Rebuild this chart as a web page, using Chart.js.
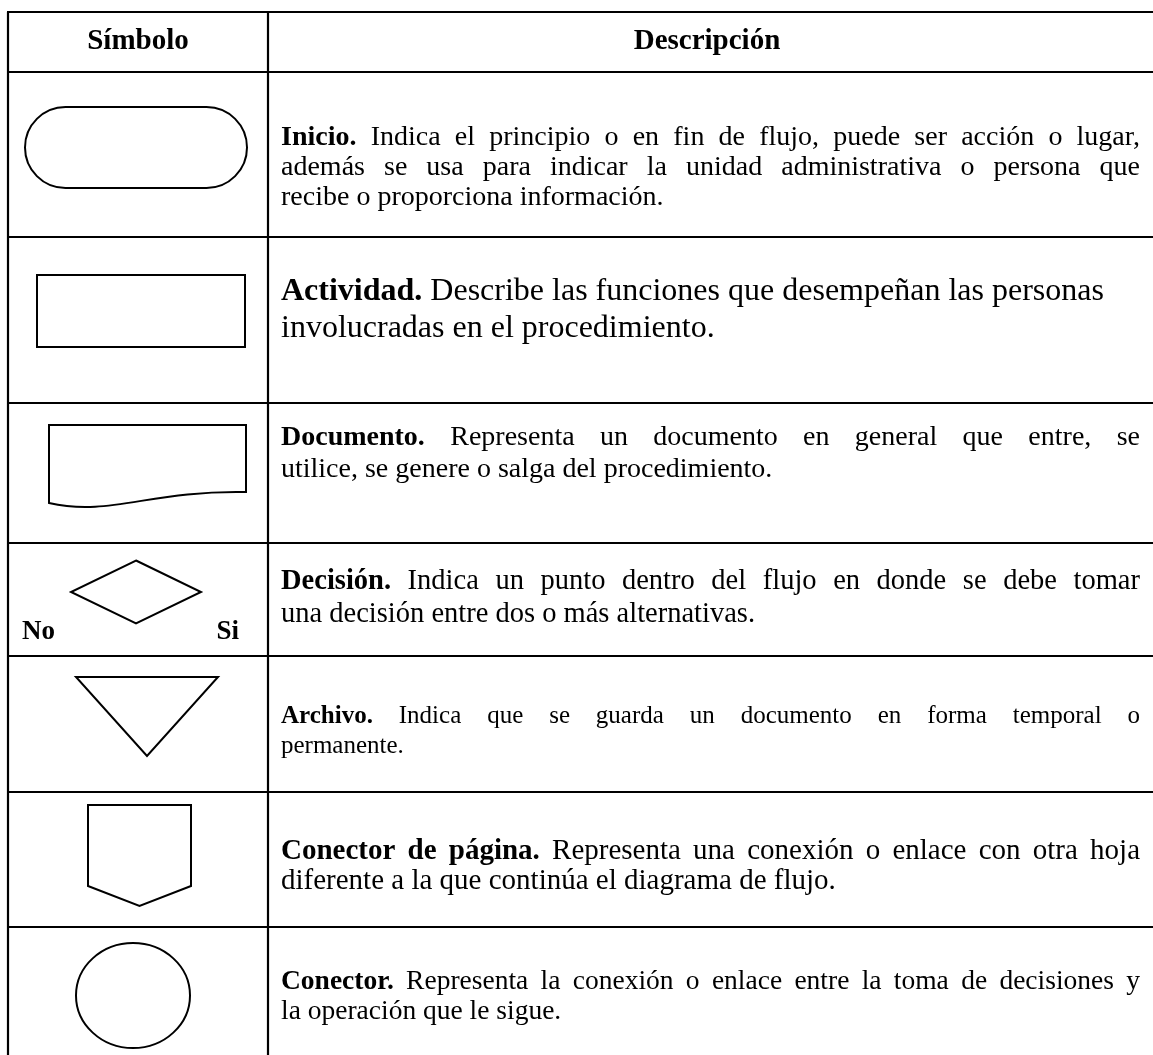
<!DOCTYPE html>
<html>
<head>
<meta charset="utf-8">
<script src="https://cdn.jsdelivr.net/npm/chart.js@4.4.1/dist/chart.umd.min.js"></script>
<style>
  html, body { margin: 0; padding: 0; background: #fff; }
  canvas { display: block; }
</style>
</head>
<body>
<canvas id="tabla" width="1153" height="1055"></canvas>
<script>
/* globals Chart:false */

// Contenido de la tabla
const headers = ['Símbolo', 'Descripción']
const symbols = ['inicio', 'actividad', 'documento', 'decision', 'archivo', 'conectorPagina', 'conector']
const titles = ['Inicio.', 'Actividad.', 'Documento.', 'Decisión.', 'Archivo.', 'Conector de página.', 'Conector.']
const descriptions = [
  ['Indica el principio o en fin de flujo, puede ser acción o lugar,',
   'además se usa para indicar la unidad administrativa o persona que',
   'recibe o proporciona información.'],
  ['Describe las funciones que desempeñan las personas',
   'involucradas en el procedimiento.'],
  ['Representa un documento en general que entre, se',
   'utilice, se genere o salga del procedimiento.'],
  ['Indica un punto dentro del flujo en donde se debe tomar',
   'una decisión entre dos o más alternativas.'],
  ['Indica que se guarda un documento en forma temporal o',
   'permanente.'],
  ['Representa una conexión o enlace con otra hoja',
   'diferente a la que continúa el diagrama de flujo.'],
  ['Representa la conexión o enlace entre la toma de decisiones y',
   'la operación que le sigue.']
]
const justified = [
  [true, true, false],
  [false, false],
  [true, false],
  [true, false],
  [true, false],
  [true, false],
  [true, false]
]
const decisionLabels = ['No', 'Si']

// Disposición (unidades = píxeles de la escala)
const W = 1153
const H = 1055
const rowEdges = [12, 72, 237, 403, 543, 656, 792, 927, 1055]
const colEdges = [8, 268, W]
const textLeft = 281
const textRight = 1140
const fontSizes = [28, 32, 28, 28.5, 25, 29, 27.5]
const baselines = [
  [145, 175, 205],
  [300, 337],
  [445, 477],
  [589, 622],
  [723, 753],
  [859, 889],
  [989, 1019]
]
const headerSize = 29
const headerBaseline = 49
const serif = '"Liberation Serif", "Times New Roman", serif'

// figuras de la columna izquierda
const shapeBoxes = {
  inicio: { x0: 25, x1: 247, y0: 107, y1: 188 },
  actividad: { x0: 37, x1: 245, y0: 275, y1: 347 },
  documento: { x0: 49, x1: 246, y0: 425, yr: 492, yl: 503 },
  decision: { cx: 136, cy: 592, hw: 65, hh: 31.5 },
  archivo: { x0: 76, x1: 218, y0: 677, y1: 756 },
  conectorPagina: { x0: 88, x1: 191, y0: 805, y1: 886, tip: 906 },
  conector: { cx: 133, cy: 995.5, rx: 57, ry: 52.5 }
}

function drawShape (ctx, name, px, py, sx, sy) {
  const b = shapeBoxes[name]
  ctx.beginPath()
  if (name === 'inicio') {
    const r = (b.y1 - b.y0) / 2
    const cy = (b.y0 + b.y1) / 2
    ctx.moveTo(px(b.x0 + r), py(b.y0))
    ctx.lineTo(px(b.x1 - r), py(b.y0))
    ctx.arc(px(b.x1 - r), py(cy), sy(r), -Math.PI / 2, Math.PI / 2)
    ctx.lineTo(px(b.x0 + r), py(b.y1))
    ctx.arc(px(b.x0 + r), py(cy), sy(r), Math.PI / 2, Math.PI * 1.5)
  } else if (name === 'actividad') {
    ctx.rect(px(b.x0), py(b.y0), sx(b.x1 - b.x0), sy(b.y1 - b.y0))
  } else if (name === 'documento') {
    ctx.moveTo(px(b.x0), py(b.yl))
    ctx.lineTo(px(b.x0), py(b.y0))
    ctx.lineTo(px(b.x1), py(b.y0))
    ctx.lineTo(px(b.x1), py(b.yr))
    ctx.bezierCurveTo(px(150), py(b.yr - 2), px(110), py(b.yl + 14), px(b.x0), py(b.yl))
  } else if (name === 'decision') {
    ctx.moveTo(px(b.cx), py(b.cy - b.hh))
    ctx.lineTo(px(b.cx + b.hw), py(b.cy))
    ctx.lineTo(px(b.cx), py(b.cy + b.hh))
    ctx.lineTo(px(b.cx - b.hw), py(b.cy))
  } else if (name === 'archivo') {
    ctx.moveTo(px(b.x0), py(b.y0))
    ctx.lineTo(px(b.x1), py(b.y0))
    ctx.lineTo(px((b.x0 + b.x1) / 2), py(b.y1))
  } else if (name === 'conectorPagina') {
    ctx.moveTo(px(b.x0), py(b.y0))
    ctx.lineTo(px(b.x1), py(b.y0))
    ctx.lineTo(px(b.x1), py(b.y1))
    ctx.lineTo(px((b.x0 + b.x1) / 2), py(b.tip))
    ctx.lineTo(px(b.x0), py(b.y1))
  } else if (name === 'conector') {
    ctx.ellipse(px(b.cx), py(b.cy), sx(b.rx), sy(b.ry), 0, 0, Math.PI * 2)
  }
  ctx.closePath()
  ctx.stroke()
}

function drawLine (ctx, tokens, x0, x1, y, size, justify) {
  const reg = size + 'px ' + serif
  const bold = 'bold ' + size + 'px ' + serif
  ctx.font = reg
  const space = ctx.measureText(' ').width
  const widths = tokens.map(t => {
    ctx.font = t.bold ? bold : reg
    return ctx.measureText(t.text).width
  })
  const natural = widths.reduce((a, b) => a + b, 0) + space * (tokens.length - 1)
  let gap = space
  if (justify && tokens.length > 1) gap = space + Math.max(0, x1 - x0 - natural) / (tokens.length - 1)
  let x = x0
  tokens.forEach((t, i) => {
    ctx.font = t.bold ? bold : reg
    ctx.fillText(t.text, x, y)
    x += widths[i] + gap
  })
}

const tablePlugin = {
  id: 'tablaSimbolos',
  afterDatasetsDraw (chart) {
    const ctx = chart.ctx
    const xs = chart.scales.x
    const ys = chart.scales.y
    const px = v => xs.getPixelForValue(v)
    const py = v => ys.getPixelForValue(v)
    const sx = v => Math.abs(px(v) - px(0))
    const sy = v => Math.abs(py(v) - py(0))

    ctx.save()
    ctx.fillStyle = '#fff'
    ctx.fillRect(0, 0, chart.width, chart.height)

    // rejilla
    ctx.strokeStyle = '#000'
    ctx.lineWidth = 2.2
    ctx.beginPath()
    rowEdges.slice(0, -1).forEach(y => {
      ctx.moveTo(px(colEdges[0] - 1), py(y))
      ctx.lineTo(px(colEdges[2]), py(y))
    })
    colEdges.slice(0, -1).forEach(x => {
      ctx.moveTo(px(x), py(rowEdges[0]))
      ctx.lineTo(px(x), py(rowEdges[rowEdges.length - 1]))
    })
    ctx.stroke()

    // encabezados
    ctx.fillStyle = '#000'
    ctx.textBaseline = 'alphabetic'
    ctx.textAlign = 'center'
    ctx.font = 'bold ' + headerSize + 'px ' + serif
    ctx.fillText(headers[0], px((colEdges[0] + colEdges[1]) / 2), py(headerBaseline))
    ctx.fillText(headers[1], px(707), py(headerBaseline))

    // figuras
    ctx.lineWidth = 2
    ctx.lineJoin = 'miter'
    symbols.forEach(s => drawShape(ctx, s, px, py, sx, sy))

    // etiquetas de la decisión
    ctx.font = 'bold 27px ' + serif
    ctx.textAlign = 'left'
    ctx.fillText(decisionLabels[0], px(22), py(639))
    ctx.textAlign = 'right'
    ctx.fillText(decisionLabels[1], px(239), py(639))

    // descripciones
    ctx.textAlign = 'left'
    descriptions.forEach((lines, r) => {
      lines.forEach((line, i) => {
        let tokens = line.split(' ').map(w => ({ text: w, bold: false }))
        if (i === 0) {
          tokens = titles[r].split(' ').map(w => ({ text: w, bold: true })).concat(tokens)
        }
        drawLine(ctx, tokens, px(textLeft), px(textRight), py(baselines[r][i]), fontSizes[r], justified[r][i])
      })
    })
    ctx.restore()
  }
}

// eslint-disable-next-line no-unused-vars
const tablaChart = new Chart(document.getElementById('tabla'), {
  type: 'scatter',
  data: { datasets: [{ data: [] }] },
  options: {
    responsive: false,
    animation: false,
    layout: { padding: 0 },
    plugins: { legend: { display: false }, tooltip: { enabled: false } },
    scales: {
      x: { type: 'linear', min: 0, max: W, display: false },
      y: { type: 'linear', min: 0, max: H, reverse: true, display: false }
    }
  },
  plugins: [tablePlugin]
})
</script>
</body>
</html>
